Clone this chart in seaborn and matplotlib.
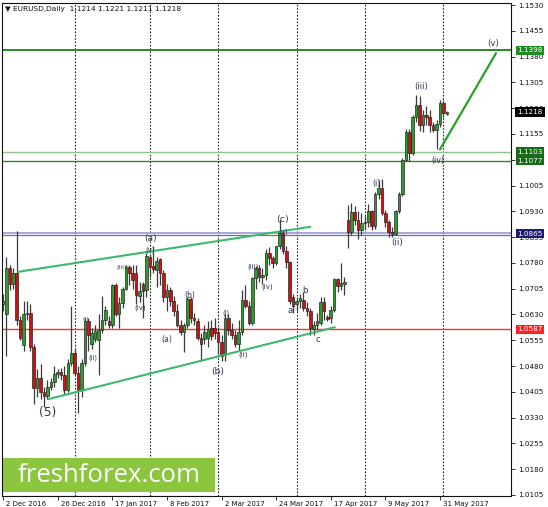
import numpy as np
import pandas as pd
import matplotlib
matplotlib.use("Agg")
import matplotlib.pyplot as plt
import matplotlib.transforms as mtransforms
from matplotlib.patches import Rectangle
import seaborn as sns

# ---------------- data (EURUSD daily) ----------------
opens = [1.0660, 1.0630, 1.0765, 1.0720, 1.0752, 1.0614, 1.0540, 1.0630, 1.0635, 1.0535,
         1.0415, 1.0445, 1.0405, 1.0392, 1.0420, 1.0435, 1.0458, 1.0462, 1.0455, 1.0410,
         1.0490, 1.0517, 1.0460, 1.0410, 1.0490, 1.0612, 1.0545, 1.0558, 1.0556, 1.0585,
         1.0614, 1.0612, 1.0600, 1.0716, 1.0630, 1.0662, 1.0705, 1.0769, 1.0750, 1.0752,
         1.0684, 1.0720, 1.0700, 1.0798, 1.0772, 1.0760, 1.0790, 1.0750, 1.0682, 1.0702,
         1.0670, 1.0640, 1.0600, 1.0578, 1.0600, 1.0675, 1.0620, 1.0612, 1.0562, 1.0560,
         1.0561, 1.0592, 1.0592, 1.0580, 1.0551, 1.0512, 1.0620, 1.0585, 1.0570, 1.0545,
         1.0580, 1.0672, 1.0655, 1.0605, 1.0735, 1.0765, 1.0740, 1.0745, 1.0810, 1.0795,
         1.0780, 1.0830, 1.0868, 1.0815, 1.0782, 1.0680, 1.0660, 1.0668, 1.0672, 1.0650,
         1.0640, 1.0588, 1.0600, 1.0605, 1.0667, 1.0622, 1.0620, 1.0643, 1.0732, 1.0712,
         1.0718, 1.0905, 1.0871, 1.0929, 1.0905, 1.0875, 1.0895, 1.0898, 1.0930, 1.0888,
         1.0980, 1.0997, 1.0925, 1.0900, 1.0870, 1.0865, 1.0930, 1.0980, 1.1080, 1.1160,
         1.1100, 1.1205, 1.1240, 1.1180, 1.1210, 1.1205, 1.1180, 1.1168, 1.1185, 1.1245,
         1.1214]
highs = [1.0690, 1.0796, 1.0775, 1.0765, 1.0874, 1.0625, 1.0670, 1.0668, 1.0660, 1.0545,
         1.0470, 1.0485, 1.0420, 1.0440, 1.0445, 1.0480, 1.0470, 1.0475, 1.0480, 1.0500,
         1.0655, 1.0530, 1.0480, 1.0500, 1.0620, 1.0620, 1.0590, 1.0600, 1.0630, 1.0685,
         1.0655, 1.0625, 1.0720, 1.0722, 1.0680, 1.0710, 1.0775, 1.0775, 1.0775, 1.0775,
         1.0725, 1.0725, 1.0810, 1.0805, 1.0829, 1.0797, 1.0795, 1.0760, 1.0720, 1.0710,
         1.0685, 1.0660, 1.0615, 1.0605, 1.0680, 1.0680, 1.0635, 1.0620, 1.0575, 1.0600,
         1.0610, 1.0615, 1.0620, 1.0595, 1.0570, 1.0630, 1.0630, 1.0605, 1.0585, 1.0615,
         1.0700, 1.0715, 1.0670, 1.0740, 1.0770, 1.0775, 1.0765, 1.0820, 1.0825, 1.0800,
         1.0830, 1.0906, 1.0875, 1.0830, 1.0785, 1.0690, 1.0680, 1.0690, 1.0695, 1.0665,
         1.0650, 1.0610, 1.0635, 1.0680, 1.0680, 1.0628, 1.0655, 1.0737, 1.0737, 1.0779,
         1.0740, 1.0948, 1.0953, 1.0945, 1.0930, 1.0925, 1.0915, 1.0950, 1.0935, 1.0985,
         1.1020, 1.1023, 1.0935, 1.0905, 1.0885, 1.0935, 1.0985, 1.1085, 1.1170, 1.1170,
         1.1210, 1.1268, 1.1265, 1.1225, 1.1235, 1.1225, 1.1190, 1.1195, 1.1255, 1.1255,
         1.1221]
lows = [1.0640, 1.0510, 1.0700, 1.0705, 1.0600, 1.0555, 1.0525, 1.0615, 1.0525, 1.0370,
        1.0390, 1.0385, 1.0362, 1.0385, 1.0410, 1.0420, 1.0445, 1.0440, 1.0400, 1.0405,
        1.0480, 1.0455, 1.0343, 1.0390, 1.0480, 1.0525, 1.0530, 1.0550, 1.0454, 1.0575,
        1.0600, 1.0590, 1.0590, 1.0625, 1.0590, 1.0650, 1.0700, 1.0715, 1.0705, 1.0660,
        1.0665, 1.0620, 1.0680, 1.0740, 1.0750, 1.0710, 1.0715, 1.0665, 1.0640, 1.0655,
        1.0625, 1.0595, 1.0570, 1.0520, 1.0590, 1.0605, 1.0600, 1.0555, 1.0495, 1.0545,
        1.0535, 1.0555, 1.0560, 1.0515, 1.0495, 1.0495, 1.0570, 1.0560, 1.0535, 1.0525,
        1.0570, 1.0650, 1.0600, 1.0600, 1.0705, 1.0725, 1.0720, 1.0730, 1.0775, 1.0765,
        1.0775, 1.0820, 1.0805, 1.0765, 1.0660, 1.0635, 1.0640, 1.0650, 1.0640, 1.0625,
        1.0570, 1.0570, 1.0585, 1.0600, 1.0615, 1.0610, 1.0605, 1.0638, 1.0695, 1.0700,
        1.0687, 1.0822, 1.0860, 1.0890, 1.0850, 1.0860, 1.0880, 1.0885, 1.0875, 1.0880,
        1.0965, 1.0920, 1.0885, 1.0855, 1.0855, 1.0860, 1.0925, 1.0975, 1.1075, 1.1075,
        1.1095, 1.1190, 1.1165, 1.1160, 1.1180, 1.1160, 1.1160, 1.1110, 1.1175, 1.1205,
        1.1211]
closes = [1.0668, 1.0765, 1.0720, 1.0752, 1.0614, 1.0562, 1.0630, 1.0635, 1.0535, 1.0415,
          1.0445, 1.0405, 1.0392, 1.0420, 1.0435, 1.0458, 1.0462, 1.0455, 1.0410, 1.0490,
          1.0517, 1.0460, 1.0410, 1.0490, 1.0612, 1.0570, 1.0575, 1.0582, 1.0585, 1.0614,
          1.0643, 1.0600, 1.0716, 1.0630, 1.0662, 1.0705, 1.0769, 1.0750, 1.0731, 1.0688,
          1.0697, 1.0697, 1.0800, 1.0769, 1.0762, 1.0785, 1.0752, 1.0682, 1.0702, 1.0670,
          1.0640, 1.0600, 1.0578, 1.0600, 1.0675, 1.0620, 1.0615, 1.0562, 1.0543, 1.0580,
          1.0587, 1.0566, 1.0577, 1.0551, 1.0510, 1.0620, 1.0585, 1.0570, 1.0545, 1.0580,
          1.0672, 1.0655, 1.0605, 1.0735, 1.0765, 1.0740, 1.0745, 1.0810, 1.0795, 1.0780,
          1.0828, 1.0868, 1.0815, 1.0782, 1.0668, 1.0656, 1.0670, 1.0677, 1.0650, 1.0640,
          1.0590, 1.0600, 1.0610, 1.0667, 1.0640, 1.0618, 1.0643, 1.0733, 1.0712, 1.0722,
          1.0724, 1.0871, 1.0929, 1.0905, 1.0875, 1.0895, 1.0898, 1.0930, 1.0888, 1.0980,
          1.0997, 1.0925, 1.0900, 1.0870, 1.0865, 1.0930, 1.0980, 1.1080, 1.1160, 1.1100,
          1.1205, 1.1240, 1.1180, 1.1210, 1.1205, 1.1180, 1.1168, 1.1185, 1.1245, 1.1215,
          1.1218]

date_tick_bars = [0, 16, 32, 48, 64, 80, 96, 112, 128]
date_tick_labels = ["2 Dec 2016", "26 Dec 2016", "17 Jan 2017", "8 Feb 2017", "2 Mar 2017",
                    "24 Mar 2017", "17 Apr 2017", "9 May 2017", "31 May 2017"]
month_grid_bars = [21, 43, 63, 86, 106, 129]
price_ticks = [1.0105, 1.0180, 1.0255, 1.0330, 1.0405, 1.0480, 1.0555, 1.0630, 1.0705,
               1.0780, 1.0855, 1.0930, 1.1005, 1.1080, 1.1155, 1.1230, 1.1305, 1.1380,
               1.1455, 1.1530]
price_tick_labels = ["1.0105", "1.0180", "1.0255", "1.0330", "1.0405", "1.0480", "1.0555",
                     "1.0630", "1.0705", "1.0780", "1.0855", "1.0930", "1.1005", "1.1080",
                     "1.1155", "1.1230", "1.1305", "1.1380", "1.1455", "1.1530"]

level_values = [1.1398, 1.1103, 1.1077, 1.0865, 1.0587]
level_labels = ["1.1398", "1.1103", "1.1077", "1.0865", "1.0587"]
level_colors = ["#2a8a2a", "#8cc48c", "#2a8a2a", "#8c8cc8", "#ff3030"]
level_box_colors = ["#1f8a1f", "#176b17", "#176b17", "#1c1c70", "#ff2020"]
current_price = 1.1218

upper_channel_x = [4.4, 90.0]
upper_channel_y = [1.0754, 1.0885]
lower_channel_x = [13.3, 97.2]
lower_channel_y = [1.0384, 1.0593]
projection_x = [128.0, 144.4]
projection_y = [1.1110, 1.1390]

wave_texts = ["(a)", "(v)", "(iii)", "(iv)", "(i)", "(ii)", "(5)", "(b)", "(a)", "(b)",
              "(i)", "(ii)", "(iii)", "(iv)", "(c)", "(v)", "a", "b", "c",
              "(i)", "(ii)", "(iii)", "(iv)", "(v)"]
wave_x = [43.1, 43.1, 34.9, 40.1, 24.3, 26.4, 13.2, 54.8, 48.0, 63.0,
          65.3, 70.3, 73.2, 77.3, 82.0, 82.0, 84.1, 88.5, 92.3,
          109.3, 115.4, 122.4, 127.4, 143.5]
wave_y = [1.0852, 1.0818, 1.0768, 1.0649, 1.0614, 1.0503, 1.0344, 1.0684, 1.0556, 1.0463,
          1.0634, 1.0512, 1.0768, 1.0710, 1.0905, 1.0870, 1.0643, 1.0701, 1.0556,
          1.1012, 1.0838, 1.1292, 1.1079, 1.1419]
wave_sizes = [6.6, 5.0, 4.6, 5.0, 4.6, 4.8, 8.8, 5.6, 5.6, 6.6,
              4.8, 5.0, 5.0, 5.0, 6.8, 5.0, 6.2, 6.2, 6.2,
              5.8, 6.3, 6.2, 5.8, 6.2]

# ---------------- figure ----------------
sns.set_style("white")
plt.rcParams["font.family"] = ["DejaVu Sans"]

fig = plt.figure(figsize=(5.48, 5.07), dpi=100)
ax = fig.add_axes([2 / 548, 1 - 496 / 507, 509 / 548, 493 / 507])
ax.set_facecolor("white")

df = pd.DataFrame({"o": opens, "h": highs, "l": lows, "c": closes})
df["i"] = np.arange(len(df))
up = df[df.c >= df.o]
dn = df[df.c < df.o]

# wicks
ax.vlines(df.i, df.l, df.h, color="#3a3a3a", lw=0.9, zorder=3)
# bodies
bw = 0.76
ax.bar(up.i, np.maximum(up.c - up.o, 0.00012), bottom=up.o, width=bw, color="#2e9b2e",
       edgecolor="#1a1a1a", linewidth=0.45, zorder=4)
ax.bar(dn.i, (dn.o - dn.c), bottom=dn.c, width=bw, color="#cc1111",
       edgecolor="#1a1a1a", linewidth=0.45, zorder=4)

# vertical month grid
for b in month_grid_bars:
    ax.axvline(b, color="#222222", lw=0.8, ls=(0, (1.5, 1.5)), zorder=1)

# horizontal levels
for v, c in zip(level_values, level_colors):
    lw = 1.4 if v == 1.1398 else 1.0
    if v == 1.0865:
        ax.axhline(1.0867, color="#9a9ad2", lw=1.2, zorder=2)
        ax.axhline(1.0860, color="#6a6ab0", lw=0.9, zorder=2)
    else:
        ax.axhline(v, color=c, lw=lw, zorder=2)

# trend lines via seaborn
sns.lineplot(x=upper_channel_x, y=upper_channel_y, ax=ax, color="#3cb96a", lw=1.5,
             estimator=None, sort=False, zorder=5)
sns.lineplot(x=lower_channel_x, y=lower_channel_y, ax=ax, color="#3cb96a", lw=1.5,
             estimator=None, sort=False, zorder=5)
sns.lineplot(x=projection_x, y=projection_y, ax=ax, color="#2a9f2a", lw=1.6,
             estimator=None, sort=False, zorder=5)

# wave labels
for t, x, y, s in zip(wave_texts, wave_x, wave_y, wave_sizes):
    ax.text(x, y, t, fontsize=s, color="#33384f", ha="center", va="center", zorder=6)

ax.set_xlim(-0.3, 148.8)
ax.set_ylim(1.0102, 1.1536)

# axes styling
for sp in ax.spines.values():
    sp.set_visible(True)
    sp.set_color("#111111")
    sp.set_linewidth(0.8)

ax.yaxis.tick_right()
ax.set_yticks(price_ticks)
ax.set_yticklabels(price_tick_labels)
ax.tick_params(axis="y", right=True, left=False, length=3, width=0.6, pad=2,
               labelsize=5.2, colors="#111111")
ax.set_xticks(date_tick_bars)
ax.set_xticklabels(date_tick_labels, ha="left")
ax.tick_params(axis="x", bottom=True, length=3, width=0.6, pad=0.6, labelsize=5.0,
               colors="#111111")
for lbl in ax.get_xticklabels():
    lbl.set_transform(lbl.get_transform() + mtransforms.ScaledTranslation(3 / 100, 0, fig.dpi_scale_trans))
ax.set_xlabel("")
ax.set_ylabel("")
ax.grid(False)

# right-side price boxes
trans = mtransforms.blended_transform_factory(ax.transAxes, ax.transData)
for v, lab, bc in zip(level_values, level_labels, level_box_colors):
    ax.text(1.012, v, lab, transform=trans, fontsize=5.2, color="white", ha="left",
            va="center", clip_on=False, zorder=20,
            bbox=dict(boxstyle="square,pad=0.22", fc=bc, ec="none"))
ax.text(1.012, current_price, "1.1218", transform=trans, fontsize=5.2,
        color="white", ha="left", va="center", clip_on=False, zorder=20,
        bbox=dict(boxstyle="square,pad=0.3", fc="#000000", ec="none"))

# header
ax.text(0.006, 0.988, "\u25bc EURUSD,Daily  1.1214 1.1221 1.1211 1.1218",
        transform=ax.transAxes, fontsize=5.3, color="#111111", ha="left", va="center",
        zorder=20)

# watermark
fig.patches.append(Rectangle((3 / 548, 1 - 492 / 507), 212 / 548, 34 / 507,
                             transform=fig.transFigure, facecolor="#8cc63f",
                             edgecolor="none", zorder=30))
fig.text(109 / 548, 1 - 476 / 507, "freshforex.com", fontsize=18.5, color="white",
         ha="center", va="center", zorder=31, family=["Open Sans", "DejaVu Sans"])

fig.savefig("out.png", dpi=100, facecolor="white")
